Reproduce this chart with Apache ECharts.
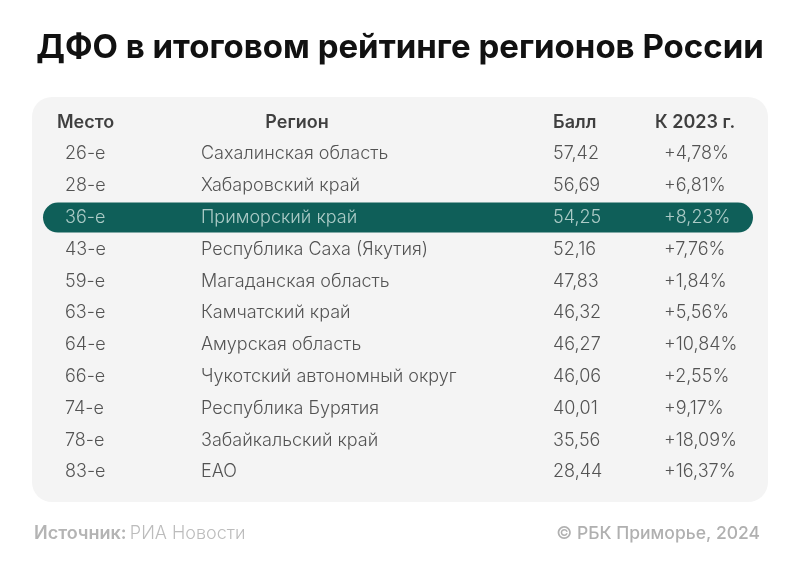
<!DOCTYPE html>
<html><head><meta charset="utf-8">
<script src="https://cdn.jsdelivr.net/npm/echarts@6/dist/echarts.min.js"></script>
<style>html,body{margin:0;padding:0;background:#fff}#c{width:800px;height:576px}</style>
</head><body><div id="c"></div>
<script>
const titleText = 'ДФО в итоговом рейтинге регионов России';
const headers = ['Место', 'Регион', 'Балл', 'К 2023 г.'];
const places = ['26-е','28-е','36-е','43-е','59-е','63-е','64-е','66-е','74-е','78-е','83-е'];
const regions = ['Сахалинская область','Хабаровский край','Приморский край','Республика Саха (Якутия)','Магаданская область','Камчатский край','Амурская область','Чукотский автономный округ','Республика Бурятия','Забайкальский край','ЕАО'];
const scores = ['57,42','56,69','54,25','52,16','47,83','46,32','46,27','46,06','40,01','35,56','28,44'];
const changes = ['+4,78%','+6,81%','+8,23%','+7,76%','+1,84%','+5,56%','+10,84%','+2,55%','+9,17%','+18,09%','+16,37%'];
const highlightRegion = 'Приморский край';
const sourceLabel = 'Источник:';
const sourceName = 'РИА Новости';
const copyright = '© РБК Приморье, 2024';

const FONT = 'Inter, "Noto Sans", sans-serif';
const rowCats = ['header'].concat(places);
const hlIndex = regions.indexOf(highlightRegion) + 1;

// column layout (pixel positions on a 0..800 x axis)
const colX = [65, 201, 553, 664];
const headX = [57, 297, 553, 655];
const headAlign = ['left', 'center', 'left', 'left'];
const columns = [places, regions, scores, changes];

const series = [];
// highlight pill
series.push({
  type: 'custom', silent: true, z: 1,
  data: [[0, hlIndex]],
  renderItem: function (params, api) {
    const left = api.coord([43, api.value(1)]);
    const right = api.coord([753, api.value(1)]);
    const h = 30;
    return { type: 'rect',
      shape: { x: left[0], y: left[1] - h / 2, width: right[0] - left[0], height: h, r: 15 },
      style: { fill: '#0f5f59' } };
  }
});
columns.forEach(function (col, ci) {
  series.push({
    type: 'scatter', symbolSize: 0, z: 3, silent: true,
    data: col.map(function (t, i) {
      return { value: [colX[ci], i + 1], name: t,
        label: { color: (i + 1 === hlIndex) ? '#d3e6e2' : '#2a2a2a' } };
    }),
    label: {
      show: true, position: 'inside', align: 'left', verticalAlign: 'middle',
      fontFamily: FONT, fontSize: 18, fontWeight: 300,
      formatter: function (p) { return p.name; }
    },
    labelLayout: { hideOverlap: false }
  });
});
// header row
series.push({
  type: 'scatter', symbolSize: 0, z: 3, silent: true,
  data: headers.map(function (t, i) {
    return { value: [headX[i], 0], name: t, label: { align: headAlign[i] } };
  }),
  label: {
    show: true, position: 'inside', verticalAlign: 'middle',
    fontFamily: FONT, fontSize: 18, fontWeight: 600, color: '#111',
    formatter: function (p) { return p.name; }
  }
});

const chart = echarts.init(document.getElementById('c'), null, { renderer: 'canvas' });
chart.setOption({
  animation: false,
  backgroundColor: '#ffffff',
  title: {
    text: titleText, left: 'center', top: 27,
    textStyle: { fontFamily: FONT, fontSize: 33, fontWeight: 700, color: '#111' }
  },
  grid: { left: 0, right: 0, top: 106.3, height: 381.6 },
  xAxis: { type: 'value', min: 0, max: 800, show: false },
  yAxis: { type: 'category', data: rowCats, inverse: true, show: false },
  graphic: [
    { type: 'rect', z: -10, shape: { x: 32, y: 97, width: 736, height: 405, r: 20 }, style: { fill: '#f4f4f4' } },
    { type: 'text', left: 34, top: 525, style: {
        text: '{b|' + sourceLabel + '} {n|' + sourceName + '}',
        rich: {
          b: { fontFamily: FONT, fontSize: 18, fontWeight: 600, fill: '#b4b4b4', color: '#b4b4b4' },
          n: { fontFamily: FONT, fontSize: 18, fontWeight: 300, fill: '#bcbcbc', color: '#bcbcbc' }
        } } },
    { type: 'text', right: 40, top: 525, style: {
        text: copyright, fontFamily: FONT, fontSize: 17.5, fontWeight: 500, fill: '#b0b0b0' } }
  ],
  series: series
});
</script>
</body></html>
